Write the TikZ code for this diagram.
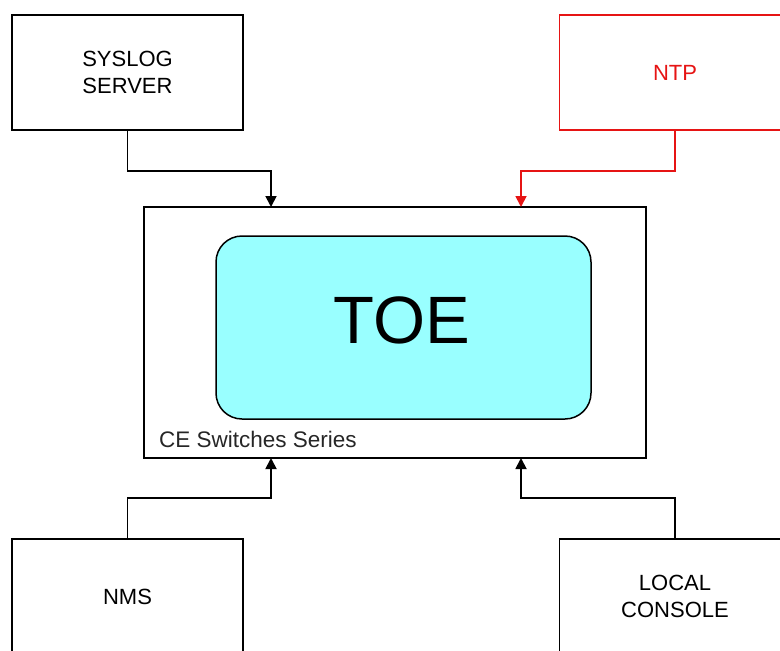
\documentclass[tikz,border=0pt]{standalone}
\usepackage{fontspec}
\setmainfont{Liberation Sans}
\usetikzlibrary{arrows.meta}
\definecolor{toecyan}{RGB}{153,255,255}
\definecolor{ntpred}{RGB}{230,20,20}
\begin{document}
\begin{tikzpicture}[x=1pt,y=-1pt,
  ext/.style={draw, line width=1.8pt, minimum width=231pt, minimum height=115pt, inner sep=0pt, align=center, font=\fontsize{22}{27}\selectfont},
  arr/.style={line width=1.8pt, -{Triangle[length=11pt,width=11pt]}}]
\useasboundingbox (0,0) rectangle (780,651);
\node[draw, line width=1.8pt, minimum width=502pt, minimum height=251pt, inner sep=0pt] (ce) at (395,332.5) {};
\node[draw, line width=1.5pt, fill=toecyan, rounded corners=26pt, minimum width=375pt, minimum height=183pt, inner sep=0pt] (toe) at (403.5,327.5) {};
\node[font=\fontsize{67}{67}\selectfont] (toetext) at (402,320) {TOE};
\node[anchor=base west, inner sep=0pt, text=black!85, font=\fontsize{22.5}{27}\selectfont] (celabel) at (159,447) {CE Switches Series};
\node[ext] (syslog) at (127.5,72.5) {SYSLOG\\SERVER};
\node[ext, draw=ntpred, text=ntpred] (ntp) at (675,72.5) {NTP};
\node[ext] (nms) at (127.5,596.5) {NMS};
\node[ext] (console) at (675,596.5) {LOCAL\\CONSOLE};
\coordinate (inA) at (271,207);
\coordinate (inB) at (521,207);
\coordinate (inC) at (271,458);
\coordinate (inD) at (521,458);
\draw[arr] (syslog.south) -- ++(0,40) -| (inA);
\draw[arr, draw=ntpred] (ntp.south) -- ++(0,40) -| (inB);
\draw[arr] (nms.north) -- ++(0,-40) -| (inC);
\draw[arr] (console.north) -- ++(0,-40) -| (inD);
\end{tikzpicture}
\end{document}
